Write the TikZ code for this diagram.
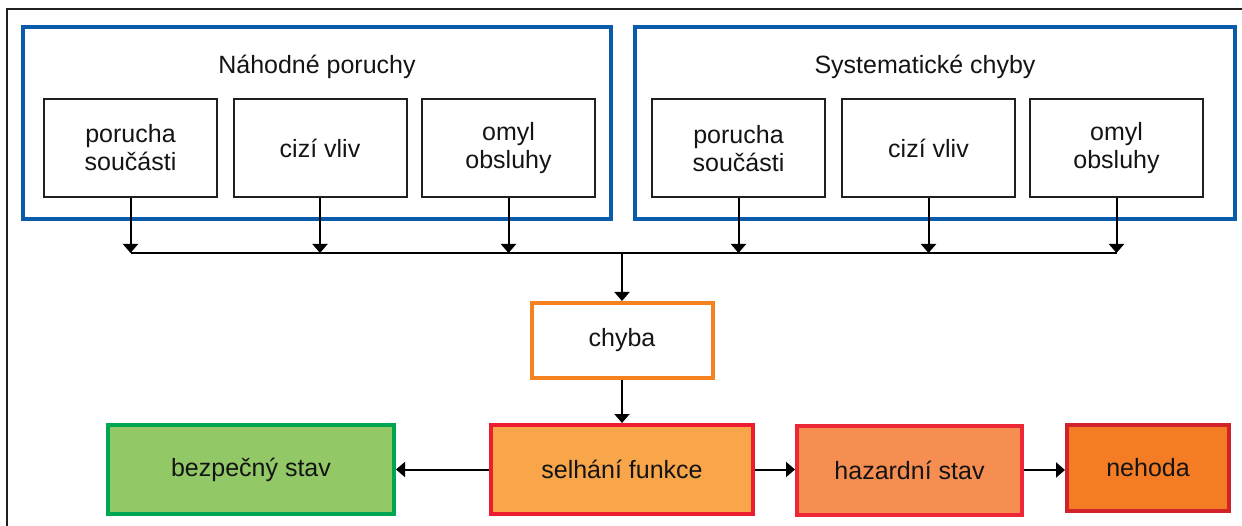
\documentclass[tikz,border=0pt]{standalone}
\usepackage{fontspec}
\setmainfont{Liberation Sans}
\usetikzlibrary{arrows.meta,calc}
\definecolor{grpblue}{HTML}{0A5BAA}
\definecolor{framegray}{HTML}{231F20}
\definecolor{safeline}{HTML}{00A651}
\definecolor{safefill}{HTML}{92C966}
\definecolor{errline}{HTML}{F5821F}
\definecolor{failfill}{HTML}{F9A64A}
\definecolor{failline}{HTML}{ED1C2E}
\definecolor{hazfill}{HTML}{F68E51}
\definecolor{hazline}{HTML}{EE2737}
\definecolor{accfill}{HTML}{F47C24}
\definecolor{accline}{HTML}{D2232A}
\tikzset{
  txt/.style={font=\fontsize{25}{28}\selectfont, text=black!92},
  group/.style={draw=grpblue, line width=4pt, minimum height=192pt, inner sep=0pt},
  item/.style={txt, draw=framegray, line width=2pt, minimum width=173pt, minimum height=98pt, align=center, inner sep=0pt},
  state/.style={txt, line width=4pt, minimum height=89pt, inner sep=0pt, align=center},
  conn/.style={line width=2pt, draw=black},
  arr/.style={conn, -{Triangle[width=15pt,length=9pt]}},
}
\begin{document}
\begin{tikzpicture}[x=1pt,y=-1pt]
\useasboundingbox (0,0) rectangle (1242,526);
\clip (0,0) rectangle (1242,526);
\fill[white] (0,0) rectangle (1242,526);
\draw[framegray, line width=2pt] (7,9) rectangle (1260,560);

% groups
\node[group, minimum width=588pt] (gL) at (317,123) {};
\node[group, minimum width=600pt] (gR) at (935,123) {};
\node[txt, anchor=base] (tL) at (317,74) {Náhodné poruchy};
\node[txt, anchor=base] (tR) at (925,74) {Systematické chyby};

% items
\node[item] (n1) at (130.5,148) {porucha\\součásti};
\node[item] (n2) at (320,148) {cizí vliv};
\node[item] (n3) at (508.5,148) {omyl\\obsluhy};
\node[item] (s1) at (738.5,148.5) {porucha\\součásti};
\node[item] (s2) at (928.5,148.5) {cizí vliv};
\node[item] (s3) at (1116.5,148.5) {omyl\\obsluhy};

% chyba and states
\node[txt, draw=errline, line width=4pt, minimum width=181pt, minimum height=75pt, inner sep=0pt] (chyba) at (622,340.5) {chyba};
\node[state, draw=safeline, fill=safefill, minimum width=286pt] (safe) at (251,469.5) {bezpečný stav};
\node[state, draw=failline, fill=failfill, minimum width=262pt] (fail) at (622,469.5) {selhání funkce};
\node[state, draw=hazline, fill=hazfill, minimum width=225pt] (haz) at (909.5,470) {hazardní stav};
\node[state, draw=accline, fill=accfill, minimum width=162pt, minimum height=86pt] (acc) at (1148,468) {nehoda};

% bus
\coordinate (bus) at (0,253);
\draw[conn] (n1.south |- bus) -- (s3.south |- bus);
\foreach \n in {n1,n2,n3,s1,s2,s3}{
  \draw[arr] (\n.south) -- (\n.south |- bus);
}
\draw[arr] (chyba.north |- bus) -- (chyba.north);
\draw[arr] (chyba.south) -- (chyba.south |- fail.north);
\draw[arr] (fail.west) -- (fail.west -| safe.east);
\draw[arr] (fail.east) -- (fail.east -| haz.west);
\draw[arr] (haz.east) -- (haz.east -| acc.west);
\end{tikzpicture}
\end{document}
